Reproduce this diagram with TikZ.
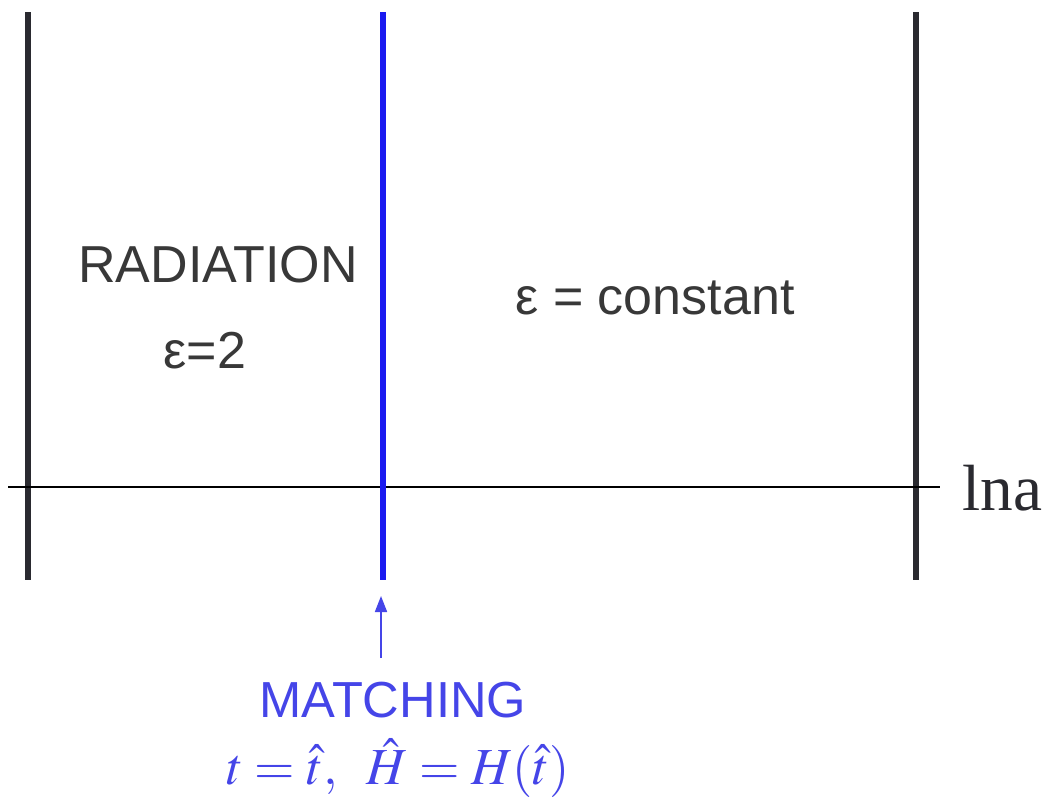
\documentclass[tikz,border=0pt]{standalone}
\usepackage{mathptmx}
\usepackage{fontspec}
\setmainfont{Liberation Sans}
\newfontfamily\serifrm{Liberation Serif}
\usetikzlibrary{arrows.meta}
\definecolor{txtgray}{HTML}{383838}
\definecolor{linegray}{HTML}{2A2A30}
\definecolor{mblue}{HTML}{1A1AF0}
\definecolor{tblue}{HTML}{4545E8}
\tikzset{
  wall/.style={line width=4pt, color=linegray},
  match/.style={line width=4.2pt, color=mblue},
  axis/.style={line width=1.5pt, color=black},
  lbl/.style={text=txtgray, font=\fontsize{39}{44}\selectfont, inner sep=0pt},
  blbl/.style={text=tblue, inner sep=0pt},
  pointer/.style={line width=1.3pt, color=tblue, -{Triangle[length=12pt,width=9pt]}, shorten >=0pt}
}
\begin{document}
\begin{tikzpicture}[x=0.75pt,y=-0.75pt]
\useasboundingbox (0,0) rectangle (1057,801);
\fill[white] (0,0) rectangle (1057,801);
% walls
\coordinate (lt) at (28,12);  \coordinate (lb) at (28,580);
\coordinate (mt) at (383,12); \coordinate (mb) at (383,580);
\coordinate (rt) at (916,12); \coordinate (rb) at (916,580);
\draw[wall] (lt) -- (lb);
\draw[wall] (rt) -- (rb);
\draw[axis] (8,487) coordinate (ax0) -- (940,487) coordinate (ax1);
\draw[match] (mt) -- (mb);
% labels
\node[text=linegray, font=\serifrm\fontsize{49}{54}\selectfont, inner sep=0pt, anchor=west] (lna) at (962,488) {lna};
\node[lbl] (rad) at (218,265) {RADIATION};
\node[lbl] (eps2) at (205,351) {ε=2};
\node[lbl] (epsc) at (655,298) {ε = constant};
\node[blbl, font=\fontsize{38}{42}\selectfont] (matching) at (393,700) {MATCHING};
\node[blbl, font=\fontsize{39}{44}\selectfont] (cond) at (398,768) {$t=\hat{t},\;\;\hat{H}=H(\hat{t})$};
\coordinate (tip) at (381,596);
\draw[pointer] (381,658) -- (tip);
\end{tikzpicture}
\end{document}
